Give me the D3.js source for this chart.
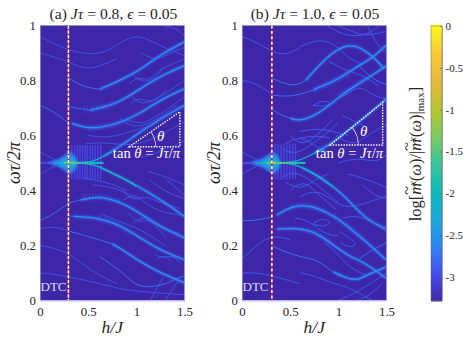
<!DOCTYPE html>
<html>
<head>
<meta charset="utf-8">
<script src="https://cdn.jsdelivr.net/npm/d3@7"></script>
<style>
body { margin: 0; background: #fff; }
svg { display: block; }
text { font-family: "Liberation Serif", serif; fill: #262626; }
.m { font-style: italic; }
</style>
</head>
<body>
<div id="chart"></div>
<script>
// axis ticks
var hTicks = [0, 0.5, 1, 1.5];
var wTicks = [0, 0.2, 0.4, 0.6, 0.8, 1];
var barTicks = [0, -0.5, -1, -1.5, -2, -2.5, -3];

// parula, read at even steps from the colorbar
var levelStops = [-3.28, -2.952, -2.624, -2.296, -1.968, -1.64, -1.312, -0.984, -0.656, -0.328, 0];
var colorStops = ["#3e26a8", "#4650f0", "#2d86f5", "#1aa8dd", "#0fbcb8", "#3ac59a", "#7dcb5f", "#b8c52e", "#e7ba3d", "#fcc738", "#f9fb15"];

// panel (a): strong ridges, [h/J, wt/2pi]
var aBright = [
  [[0.62, 0.768], [0.83, 0.80], [1.04, 0.838], [1.246, 0.893], [1.5, 0.941]],
  [[0.52, 0.692], [0.623, 0.70], [0.796, 0.716], [0.97, 0.754], [1.176, 0.80], [1.35, 0.832], [1.5, 0.854]],
  [[0.33, 0.644], [0.46, 0.628], [0.62, 0.627], [0.83, 0.645], [1.04, 0.68], [1.246, 0.729], [1.5, 0.77]],
  [[0.66, 0.525], [0.83, 0.56], [0.97, 0.595], [1.2, 0.65], [1.45, 0.70], [1.5, 0.71]],
  [[0.62, 0.485], [0.75, 0.463], [0.90, 0.438], [1.14, 0.39], [1.38, 0.336], [1.5, 0.304]],
  [[0.42, 0.365], [0.62, 0.38], [0.83, 0.359], [1.04, 0.317], [1.246, 0.268], [1.5, 0.227]],
  [[0.35, 0.305], [0.62, 0.30], [0.83, 0.274], [1.04, 0.227], [1.246, 0.183], [1.5, 0.147]],
  [[0.75, 0.205], [0.83, 0.19], [1.04, 0.14], [1.246, 0.10], [1.5, 0.064]]
];
// panel (a): weaker tails of the same ridges
var aMid = [
  [[0.3, 0.808], [0.45, 0.776], [0.62, 0.768]],
  [[0.3, 0.705], [0.4, 0.698], [0.52, 0.692]],
  [[0.3, 0.354], [0.36, 0.36], [0.42, 0.365]],
  [[0.3, 0.307], [0.33, 0.306], [0.35, 0.305]],
  [[0.3, 0.252], [0.62, 0.22], [0.75, 0.205]],
  [[0.62, 0.159], [0.83, 0.11], [1.0, 0.05], [1.14, 0.048], [1.315, 0.059], [1.42, 0.081], [1.5, 0.088]],
  [[0.0, 0.29], [0.15, 0.315], [0.3, 0.354]],
  [[0.0, 0.71], [0.15, 0.685], [0.3, 0.644]]
];
// panel (a): faint lines and crossing pairs
var aDim = [
  [[0, 0.96], [0.3, 0.905], [0.62, 0.89], [0.796, 0.929], [0.969, 0.965], [1.107, 0.953], [1.228, 0.929], [1.4, 0.905], [1.5, 0.89]],
  [[1.28, 1.0], [1.42, 0.99], [1.5, 0.96]],
  [[0.934, 0.79], [1.02, 0.814], [1.125, 0.796], [1.228, 0.838], [1.315, 0.85], [1.5, 0.88]],
  [[0.969, 0.82], [1.073, 0.79], [1.194, 0.808], [1.28, 0.844]],
  [[0.934, 0.71], [1.02, 0.741], [1.142, 0.717], [1.28, 0.747], [1.40, 0.777], [1.5, 0.80]],
  [[0.952, 0.741], [1.056, 0.71], [1.194, 0.729], [1.315, 0.765]],
  [[0.796, 0.638], [0.9, 0.662], [1.04, 0.638], [1.176, 0.662], [1.315, 0.693], [1.5, 0.74]],
  [[0.83, 0.662], [0.969, 0.626], [1.142, 0.644], [1.28, 0.674], [1.42, 0.71]],
  [[0.5, 0.60], [0.7, 0.59], [0.9, 0.61], [1.1, 0.63]],
  [[0.48, 0.57], [0.7, 0.575], [0.95, 0.56], [1.2, 0.59], [1.5, 0.65]],
  [[0.0, 0.54], [0.156, 0.51], [0.25, 0.50]],
  [[0.0, 0.46], [0.156, 0.49], [0.25, 0.50]],
  [[0.0, 0.9], [0.3, 0.87], [0.45, 0.84], [0.62, 0.85], [0.8, 0.88]],
  [[0.0, 0.10], [0.15, 0.095], [0.3, 0.085], [0.62, 0.062], [0.83, 0.04], [1.1, 0.03], [1.5, 0.02]],
  [[0.848, 0.401], [0.969, 0.359], [1.09, 0.383], [1.246, 0.353], [1.45, 0.335]],
  [[0.865, 0.365], [0.986, 0.389], [1.073, 0.359], [1.228, 0.323], [1.45, 0.31]],
  [[0.917, 0.317], [1.02, 0.28], [1.142, 0.298], [1.263, 0.256], [1.45, 0.244]],
  [[0.969, 0.28], [1.073, 0.31], [1.194, 0.274], [1.315, 0.225]],
  [[1.194, 0.165], [1.28, 0.153], [1.384, 0.165], [1.47, 0.128]],
  [[1.21, 0.147], [1.28, 0.168], [1.367, 0.14]],
  [[0.62, 0.316], [0.83, 0.286], [1.04, 0.26], [1.315, 0.195]],
  [[1.142, 0.438], [1.315, 0.39], [1.5, 0.371]],
  [[1.315, 0.438], [1.5, 0.383]],
  [[1.142, 0.0], [1.228, 0.05], [1.28, 0.086]],
  [[1.30, 0.0], [1.44, 0.074]],
  [[0.0, 0.2], [0.15, 0.19], [0.3, 0.17], [0.45, 0.13], [0.62, 0.09], [0.8, 0.06]],
  [[0.0, 0.26], [0.15, 0.27], [0.3, 0.252]],
  [[0.55, 0.42], [0.8, 0.41], [1.0, 0.37]],
  [[0.45, 0.445], [0.7, 0.43], [0.9, 0.40]],
  [[1.05, 0.90], [1.2, 0.87], [1.35, 0.90], [1.5, 0.92]],
  [[1.12, 0.47], [1.3, 0.45], [1.5, 0.42]],
  [[1.05, 0.52], [1.25, 0.54], [1.5, 0.58]]
];

// panel (b)
var bBright = [
  [[0.66, 0.80], [0.74, 0.832], [0.945, 0.907], [1.12, 0.932], [1.243, 0.919], [1.38, 0.88], [1.47, 0.845]],
  [[0.74, 0.765], [0.81, 0.777], [0.983, 0.80], [1.208, 0.854], [1.347, 0.88], [1.5, 0.929]],
  [[0.5, 0.663], [0.6, 0.65], [0.81, 0.68], [1.05, 0.753], [1.19, 0.783], [1.5, 0.853]],
  [[0.744, 0.535], [0.914, 0.565], [1.2, 0.645], [1.46, 0.72], [1.5, 0.735]],
  [[0.62, 0.483], [0.78, 0.456], [0.945, 0.413], [1.05, 0.385], [1.295, 0.29], [1.5, 0.26]],
  [[0.36, 0.31], [0.5, 0.34], [0.654, 0.347], [0.776, 0.336], [0.945, 0.31], [1.12, 0.263], [1.33, 0.201], [1.495, 0.147]],
  [[0.36, 0.259], [0.5, 0.263], [0.74, 0.256], [0.945, 0.201], [1.12, 0.159], [1.208, 0.147], [1.31, 0.128], [1.495, 0.081]],
  [[0.945, 0.104], [1.12, 0.074], [1.225, 0.077], [1.295, 0.092], [1.5, 0.122]]
];
var bMid = [
  [[0.308, 0.808], [0.533, 0.775], [0.66, 0.80]],
  [[0.308, 0.747], [0.516, 0.739], [0.74, 0.765]],
  [[0.308, 0.696], [0.4, 0.675], [0.5, 0.663]],
  [[0.308, 0.198], [0.53, 0.165], [0.67, 0.154], [0.776, 0.147], [0.89, 0.117], [0.945, 0.104]],
  [[1.208, 0.147], [1.295, 0.172], [1.5, 0.21]],
  [[1.208, 0.854], [1.28, 0.83], [1.38, 0.80], [1.5, 0.785]],
  [[0.0, 0.29], [0.15, 0.29], [0.308, 0.304]]
];
var bDim = [
  [[0.602, 0.923], [0.81, 0.953], [0.983, 0.929], [1.1, 0.88], [1.25, 0.86]],
  [[0.88, 1.0], [1.05, 0.965], [1.225, 0.96], [1.346, 0.978], [1.43, 1.0]],
  [[0.983, 1.0], [1.155, 0.978], [1.26, 0.96], [1.5, 0.978]],
  [[0.74, 0.71], [0.845, 0.729], [0.948, 0.717], [0.862, 0.705], [0.74, 0.71]],
  [[1.0, 0.735], [1.12, 0.755], [1.225, 0.783], [1.38, 0.74], [1.5, 0.735]],
  [[0.602, 0.614], [0.775, 0.626], [0.948, 0.614], [1.1, 0.60]],
  [[0.602, 0.59], [0.775, 0.60], [0.913, 0.59]],
  [[1.034, 0.674], [1.17, 0.65], [1.3, 0.63]],
  [[0.45, 0.57], [0.62, 0.60], [0.75, 0.56], [0.9, 0.54]],
  [[0.42, 0.55], [0.55, 0.53], [0.7, 0.56], [0.85, 0.60], [1.0, 0.645]],
  [[0.42, 0.45], [0.55, 0.47], [0.7, 0.44], [0.85, 0.40], [1.0, 0.355]],
  [[0.45, 0.43], [0.62, 0.40], [0.75, 0.44], [0.9, 0.46]],
  [[0.602, 0.377], [0.74, 0.40], [0.88, 0.383], [1.05, 0.33], [1.3, 0.355], [1.5, 0.38]],
  [[0.74, 0.28], [0.83, 0.30], [0.95, 0.284], [0.83, 0.265], [0.74, 0.28]],
  [[1.05, 0.30], [1.2, 0.31], [1.38, 0.28], [1.5, 0.25]],
  [[1.02, 0.25], [1.12, 0.225], [1.2, 0.205], [1.12, 0.19], [1.02, 0.21]],
  [[0.85, 0.21], [1.0, 0.17], [1.1, 0.12], [1.3, 0.09]],
  [[0.602, 0.10], [0.75, 0.09], [0.95, 0.06], [1.1, 0.05], [1.35, 0.0]],
  [[1.2, 0.0], [1.33, 0.018], [1.45, 0.06]],
  [[1.0, 0.0], [1.2, 0.03], [1.5, 0.10]],
  [[0, 0.96], [0.15, 0.94], [0.31, 0.905], [0.45, 0.89], [0.602, 0.92]],
  [[0, 0.8], [0.15, 0.79], [0.31, 0.75]],
  [[0, 0.15], [0.15, 0.2], [0.31, 0.24], [0.5, 0.22]],
  [[0, 0.10], [0.15, 0.10], [0.31, 0.09], [0.6, 0.06]],
  [[0.0, 0.54], [0.156, 0.51], [0.25, 0.50]],
  [[0.0, 0.46], [0.156, 0.49], [0.25, 0.50]],
  [[1.3, 1.0], [1.4, 0.93], [1.5, 0.90]],
  [[1.25, 0.42], [1.38, 0.38], [1.5, 0.37]],
  [[1.1, 0.46], [1.3, 0.44], [1.5, 0.41]],
  [[0.5, 0.60], [0.62, 0.56], [0.78, 0.60], [0.95, 0.66]],
  [[0.5, 0.40], [0.65, 0.44], [0.8, 0.38], [0.98, 0.33]],
  [[0.98, 0.60], [1.15, 0.56], [1.3, 0.60], [1.5, 0.64]],
  [[1.0, 0.50], [1.2, 0.52], [1.4, 0.50], [1.5, 0.53]],
  [[0.9, 0.87], [1.05, 0.84], [1.25, 0.82], [1.42, 0.78]],
  [[0.55, 0.30], [0.7, 0.29], [0.85, 0.24], [1.0, 0.235]]
];

// line along w = 0.5 near the crystal point, h and its level
var aSpineH = [0, 0.08, 0.14, 0.2, 0.25, 0.3, 0.36, 0.42, 0.5, 0.58, 0.66];
var aSpineLevel = [-3.05, -2.95, -2.75, -2.4, -1.9, -1.2, -1.55, -1.7, -1.85, -2.05, -2.4];
var bSpineH = [0, 0.08, 0.14, 0.2, 0.25, 0.31, 0.36, 0.42, 0.5, 0.58, 0.66];
var bSpineLevel = [-3.05, -2.95, -2.75, -2.3, -1.9, -1.1, -1.45, -1.55, -1.7, -1.9, -2.2];

// wedge of the halo left of the line: h and half height in wt/2pi
var aHaloH = [0.1, 0.18, 0.25, 0.3, 0.34, 0.38];
var aHaloHalf = [0.002, 0.012, 0.027, 0.04, 0.034, 0.018];
var bHaloH = [0.1, 0.18, 0.26, 0.31, 0.35, 0.39];
var bHaloHalf = [0.002, 0.012, 0.027, 0.04, 0.034, 0.018];

// branches leaving the spine, upper and lower
var aForkUp = [[[0.42, 0.5], [0.56, 0.505], [0.66, 0.525], [0.75, 0.54]]];
var aForkDown = [[[0.42, 0.5], [0.56, 0.493], [0.62, 0.485], [0.75, 0.463], [0.9, 0.438], [1.0, 0.415]]];
var bForkUp = [[[0.42, 0.5], [0.6, 0.507], [0.744, 0.535], [0.85, 0.55]]];
var bForkDown = [[[0.42, 0.5], [0.55, 0.495], [0.62, 0.483], [0.78, 0.456], [0.945, 0.413]]];

// vertical fringes beside the transition, h only
var aFringeH = [0.33, 0.363, 0.39, 0.415, 0.44, 0.467, 0.49, 0.519, 0.545, 0.571, 0.6, 0.63];
var bFringeH = [0.345, 0.375, 0.405, 0.435, 0.465, 0.495, 0.525, 0.555];

// parts of the ridges with fine vertical hair
var aHair = [
  [[0.5, 0.629], [0.62, 0.627], [0.83, 0.645]],
  [[0.46, 0.695], [0.623, 0.70], [0.78, 0.714]],
  [[0.45, 0.375], [0.62, 0.38], [0.83, 0.359]],
  [[0.6, 0.30], [0.83, 0.274], [0.95, 0.245]]
];
var bHair = [
  [[0.75, 0.766], [0.98, 0.80], [1.1, 0.826]],
  [[1.0, 0.742], [1.19, 0.783], [1.3, 0.808]],
  [[0.5, 0.34], [0.654, 0.347], [0.85, 0.325]],
  [[0.95, 0.31], [1.12, 0.263], [1.25, 0.225]],
  [[0.6, 0.256], [0.74, 0.256], [0.945, 0.201]]
];

var W = 463, H = 338;
var svg = d3.select("#chart").append("svg").attr("width", W).attr("height", H);
var defs = svg.append("defs");

function addBlur(id, sd) {
  defs.append("filter").attr("id", id).attr("filterUnits", "userSpaceOnUse")
    .attr("x", 0).attr("y", 0).attr("width", W).attr("height", H)
    .append("feGaussianBlur").attr("stdDeviation", sd);
}
addBlur("soft", 1.0);
addBlur("wide", 2.2);
addBlur("thin", 0.6);

var levelColor = d3.scaleLinear().domain(levelStops).range(colorStops).interpolate(d3.interpolateRgb).clamp(true);
var plainNum = function(d) { return d3.format("~g")(d).replace("\u2212", "-"); };

function drawPanel(cfg) {
  var x = d3.scaleLinear().domain([0, 1.5]).range([cfg.x0, cfg.x0 + 144.5]);
  var y = d3.scaleLinear().domain([0, 1]).range([300.3, 25.5]);
  var line = d3.line().x(function(d) { return x(d[0]); }).y(function(d) { return y(d[1]); }).curve(d3.curveBasis);

  defs.append("clipPath").attr("id", "clip" + cfg.id).append("rect")
    .attr("x", x(0)).attr("y", y(1)).attr("width", x(1.5) - x(0)).attr("height", y(0) - y(1));

  var g = svg.append("g").attr("clip-path", "url(#clip" + cfg.id + ")");
  g.append("rect").attr("x", x(0)).attr("y", y(1)).attr("width", x(1.5) - x(0)).attr("height", y(0) - y(1))
    .attr("fill", levelColor(-3.28));

  g.selectAll("path.hair").data(cfg.hair).enter().append("path").attr("class", "hair")
    .attr("d", line).attr("fill", "none").attr("stroke", levelColor(-2.95)).attr("stroke-width", 7)
    .attr("stroke-dasharray", "1 2").attr("opacity", 0.5);

  g.selectAll("line.fringe").data(cfg.fringe).enter().append("line").attr("class", "fringe")
    .attr("x1", function(d) { return x(d); }).attr("x2", function(d) { return x(d); })
    .attr("y1", y(cfg.fringeTop)).attr("y2", y(cfg.fringeBottom))
    .attr("stroke", levelColor(-2.95)).attr("stroke-width", 1.4).attr("filter", "url(#thin)").attr("opacity", 0.8);

  // halo around the crystal point
  var halo = d3.area().x(function(d) { return x(d[0]); })
    .y0(function(d) { return y(0.5 + d[1]); }).y1(function(d) { return y(0.5 - d[1]); }).curve(d3.curveMonotoneX);
  var haloPts = d3.zip(cfg.haloH, cfg.haloHalf);
  g.append("path").attr("d", halo(haloPts)).attr("fill", levelColor(-2.65)).attr("filter", "url(#soft)");
  g.append("path").attr("d", halo(haloPts.map(function(d) { return [d[0], d[1] * 0.5]; })))
    .attr("fill", levelColor(-2.25)).attr("filter", "url(#soft)");

  g.selectAll("path.dim").data(cfg.dim).enter().append("path").attr("class", "dim")
    .attr("d", line).attr("fill", "none").attr("stroke", levelColor(-2.85)).attr("stroke-width", 0.9).attr("opacity", cfg.dimOpacity);
  g.selectAll("path.mid").data(cfg.mid).enter().append("path").attr("class", "mid")
    .attr("d", line).attr("fill", "none").attr("stroke", levelColor(-2.75)).attr("stroke-width", 1);

  g.selectAll("path.glow").data(cfg.bright).enter().append("path").attr("class", "glow")
    .attr("d", line).attr("fill", "none").attr("stroke", levelColor(-2.8)).attr("stroke-width", 2.2).attr("filter", "url(#soft)");
  g.selectAll("path.core").data(cfg.bright).enter().append("path").attr("class", "core")
    .attr("d", line).attr("fill", "none").attr("stroke", levelColor(-2.5)).attr("stroke-width", 1.25);

  g.selectAll("path.forkUp").data(cfg.forkUp).enter().append("path").attr("class", "forkUp")
    .attr("d", line).attr("fill", "none").attr("stroke", levelColor(-2.3)).attr("stroke-width", 1.2);
  g.selectAll("path.forkDown").data(cfg.forkDown).enter().append("path").attr("class", "forkDown")
    .attr("d", line).attr("fill", "none").attr("stroke", levelColor(-2.0)).attr("stroke-width", 1.3).attr("filter", "url(#thin)");

  var spine = d3.pairs(d3.zip(cfg.spineH, cfg.spineLevel));
  g.append("g").attr("filter", "url(#thin)").selectAll("line.spine").data(spine).enter().append("line").attr("class", "spine")
    .attr("x1", function(d) { return x(d[0][0]); }).attr("x2", function(d) { return x(d[1][0]); })
    .attr("y1", y(0.5)).attr("y2", y(0.5))
    .attr("stroke", function(d) { return levelColor((d[0][1] + d[1][1]) / 2); })
    .attr("stroke-width", 2.2);

  // transition line
  g.append("line").attr("x1", x(cfg.hc)).attr("x2", x(cfg.hc)).attr("y1", y(1)).attr("y2", y(0))
    .attr("stroke", "#e0102a").attr("stroke-width", 1.5);
  g.append("line").attr("x1", x(cfg.hc)).attr("x2", x(cfg.hc)).attr("y1", y(1)).attr("y2", y(0))
    .attr("stroke", "#fff").attr("stroke-width", 1.5).attr("stroke-dasharray", cfg.dash);

  // triangle
  var t = cfg.tri;
  g.append("path").attr("d", d3.line().x(function(d) { return x(d[0]); }).y(function(d) { return y(d[1]); }).curve(d3.curveLinearClosed)(t))
    .attr("fill", "none").attr("stroke", "#fff").attr("stroke-width", 1.4).attr("stroke-dasharray", "1.4 1.3");
  var ang = Math.atan2(y(t[1][1]) - y(t[2][1]), x(t[1][0]) - x(t[0][0]));
  g.append("path").attr("transform", "translate(" + x(t[0][0]) + "," + y(t[0][1]) + ")")
    .attr("d", d3.arc()({ innerRadius: cfg.arcR, outerRadius: cfg.arcR + 0.6, startAngle: Math.PI / 2 - ang, endAngle: Math.PI / 2 }))
    .attr("fill", "#fff");

  svg.append("text").attr("x", cfg.thetaX).attr("y", cfg.thetaY).attr("class", "m").attr("font-size", 15).style("fill", "#fff").text("θ");

  var tan = svg.append("text").attr("x", cfg.tanX).attr("y", 157.5).attr("text-anchor", "middle").attr("font-size", 14.6).style("fill", "#fff");
  tan.append("tspan").text("tan ");
  tan.append("tspan").attr("class", "m").text("θ");
  tan.append("tspan").text(" = ");
  tan.append("tspan").attr("class", "m").text("Jτ");
  tan.append("tspan").text("/");
  tan.append("tspan").attr("class", "m").text("π");

  svg.append("text").attr("x", x(0) + 0.5).attr("y", 291).attr("font-size", 13).style("fill", "#dcdcf0").text("DTC");

  // axes
  var xAxis = d3.axisBottom(x).tickValues(hTicks).tickSize(0).tickPadding(7).tickFormat(plainNum);
  var yAxis = d3.axisLeft(y).tickValues(wTicks).tickSize(0).tickPadding(4).tickFormat(plainNum);
  var ax = svg.append("g").attr("transform", "translate(0," + y(0) + ")").call(xAxis);
  var ay = svg.append("g").attr("transform", "translate(" + x(0) + ",0)").call(yAxis);
  [ax, ay].forEach(function(a) {
    a.selectAll("text").attr("font-size", 12.8).attr("font-family", null);
    a.select(".domain").attr("stroke", "#8f8bdc").attr("stroke-width", 0.8);
  });
  svg.append("line").attr("x1", x(0)).attr("x2", x(1.5)).attr("y1", y(1)).attr("y2", y(1)).attr("stroke", "#8c8aa6").attr("stroke-width", 0.8);
  svg.append("line").attr("x1", x(1.5)).attr("x2", x(1.5)).attr("y1", y(1)).attr("y2", y(0)).attr("stroke", "#8f8bdc").attr("stroke-width", 0.8);

  // title and labels
  var title = svg.append("text").attr("x", cfg.titleX).attr("y", 19).attr("text-anchor", "middle").attr("font-size", 15.6);
  title.append("tspan").text("(" + cfg.id + ")  ");
  title.append("tspan").attr("class", "m").text("Jτ");
  title.append("tspan").text(" = " + cfg.jt + ", ");
  title.append("tspan").attr("class", "m").text("ϵ");
  title.append("tspan").text(" = 0.05");

  svg.append("text").attr("x", x(0.75)).attr("y", 333).attr("text-anchor", "middle").attr("font-size", 17.5).attr("class", "m").text("h/J");

  svg.append("text").attr("transform", "translate(" + cfg.yLabelX + ",163) rotate(-90)")
    .attr("text-anchor", "middle").attr("font-size", 18).attr("class", "m").text("ωτ/2π");
}

drawPanel({ id: "a", x0: 40, jt: "0.8", hc: 0.295, titleX: 113.5, yLabelX: 20, dash: "3.4 1.4", bright: aBright, mid: aMid, dim: aDim, dimOpacity: 0.9,
  forkUp: aForkUp, forkDown: aForkDown, spineH: aSpineH, spineLevel: aSpineLevel, haloH: aHaloH, haloHalf: aHaloHalf, hair: aHair,
  fringe: aFringeH, fringeTop: 0.565, fringeBottom: 0.44,
  tri: [[0.927, 0.559], [1.452, 0.559], [1.452, 0.686]], arcR: 26, thetaX: 157, thetaY: 141, tanX: 146.5 });
drawPanel({ id: "b", x0: 242, jt: "1.0", hc: 0.31, titleX: 315, yLabelX: 220, dash: "3 2.4", bright: bBright, mid: bMid, dim: bDim, dimOpacity: 1,
  forkUp: bForkUp, forkDown: bForkDown, spineH: bSpineH, spineLevel: bSpineLevel, haloH: bHaloH, haloHalf: bHaloHalf, hair: bHair,
  fringe: bFringeH, fringeTop: 0.57, fringeBottom: 0.44,
  tri: [[0.914, 0.565], [1.46, 0.565], [1.46, 0.72]], arcR: 28, thetaX: 360, thetaY: 136, tanX: 349.5 });

// colorbar
var barY = d3.scaleLinear().domain([-3.28, 0]).range([300.3, 26]);
var barSteps = d3.range(-3.28, 0.001, 0.02);
svg.append("g").selectAll("rect").data(barSteps).enter().append("rect")
  .attr("x", 431).attr("width", 11)
  .attr("y", function(d) { return barY(d) - 1.2; }).attr("height", 2.4)
  .attr("fill", function(d) { return levelColor(d); });
var barAxis = d3.axisRight(barY).tickValues(barTicks).tickSizeInner(-2).tickSizeOuter(0).tickPadding(3.5).tickFormat(plainNum);
var barG = svg.append("g").attr("transform", "translate(442,0)").call(barAxis);
barG.selectAll("text").attr("font-size", 11).attr("font-family", null);
barG.select(".domain").attr("stroke", "#666").attr("stroke-width", 0.5);
barG.selectAll("line").attr("stroke", "#555").attr("stroke-width", 0.6);
svg.append("rect").attr("x", 431).attr("y", 26).attr("width", 11).attr("height", 274.3).attr("fill", "none").attr("stroke", "#666").attr("stroke-width", 0.5);

var lab = svg.append("text").attr("transform", "translate(421,154) rotate(-90)").attr("text-anchor", "middle").attr("font-size", 16.5);
lab.append("tspan").text("log[");
lab.append("tspan").attr("class", "m").text("m");
lab.append("tspan").attr("dx", -12).attr("dy", -9).attr("font-size", 16).text("~");
lab.append("tspan").attr("class", "m").attr("dy", 4).attr("font-size", 11).text("x");
lab.append("tspan").attr("dy", 5).text("(");
lab.append("tspan").attr("class", "m").text("ω");
lab.append("tspan").text(")/|");
lab.append("tspan").attr("class", "m").text("m");
lab.append("tspan").attr("dx", -12).attr("dy", -9).attr("font-size", 16).text("~");
lab.append("tspan").attr("class", "m").attr("dy", 4).attr("font-size", 11).text("x");
lab.append("tspan").attr("dy", 5).text("(");
lab.append("tspan").attr("class", "m").text("ω");
lab.append("tspan").text(")|");
lab.append("tspan").attr("dy", 3).attr("font-size", 11).text("max");
lab.append("tspan").attr("dy", -3).text("]");
</script>
</body>
</html>
